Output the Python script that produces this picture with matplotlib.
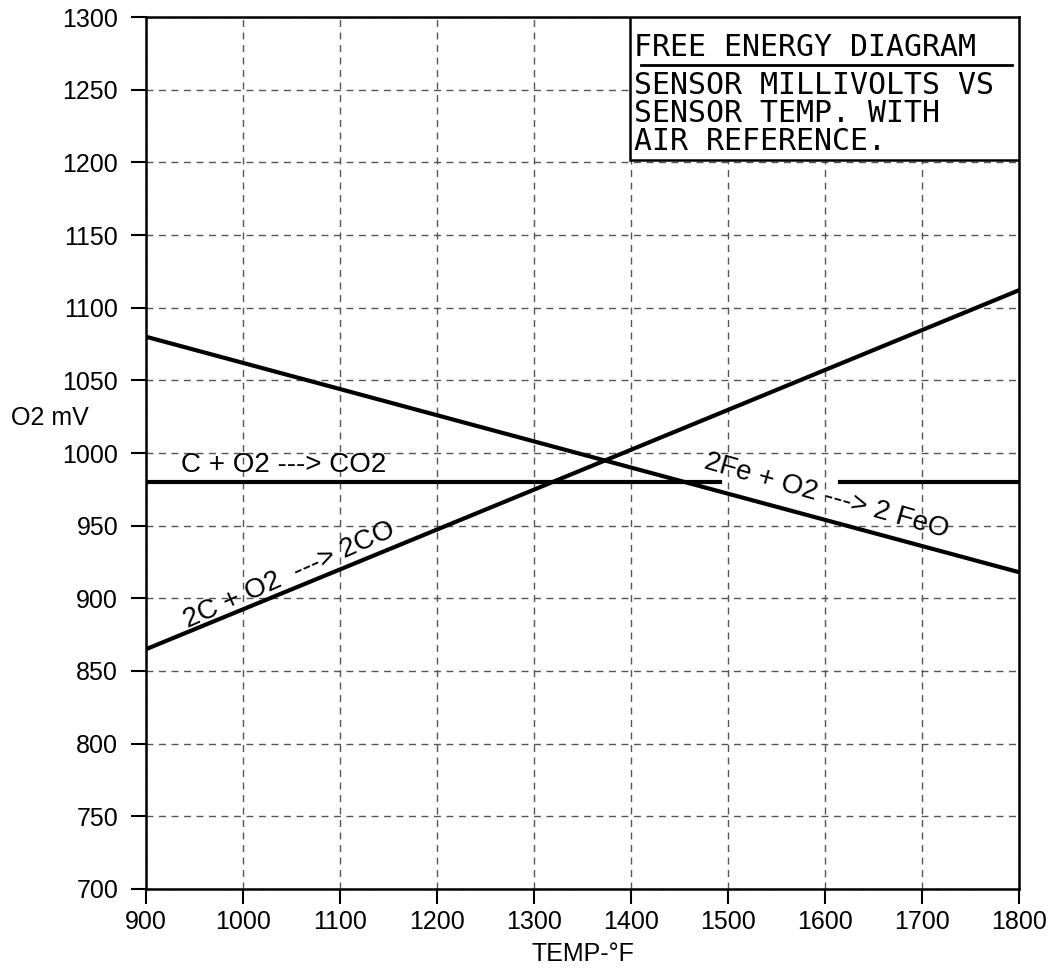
import matplotlib.pyplot as plt
from matplotlib.patches import Rectangle

temp = [900, 1800]
co_line = [865, 1112]      # 2C + O2 ---> 2CO
feo_line = [1080, 918]     # 2Fe + O2 ---> 2 FeO
co2_left = [900, 1492]     # C + O2 ---> CO2 (broken around the FeO label)
co2_right = [1615, 1800]
co2_level = 980

xticks = list(range(900, 1801, 100))
yticks = list(range(700, 1301, 50))
box_lines = ["SENSOR MILLIVOLTS VS", "SENSOR TEMP. WITH", "AIR REFERENCE."]

plt.rcParams['font.family'] = ['Liberation Sans', 'DejaVu Sans']

fig = plt.figure(figsize=(10.52, 9.72), dpi=100)
ax = fig.add_axes([0.1388, 0.0854, 0.8298, 0.8971])

ax.plot(temp, co_line, color="black", lw=3, zorder=3)
ax.plot(temp, feo_line, color="black", lw=3, zorder=3)
ax.plot(co2_left, [co2_level] * 2, color="black", lw=3, zorder=3)
ax.plot(co2_right, [co2_level] * 2, color="black", lw=3, zorder=3)

ax.set_xlim(900, 1800)
ax.set_ylim(700, 1300)
ax.set_xticks(xticks)
ax.set_yticks(yticks)
ax.tick_params(direction="out", length=11, width=1.5, labelsize=18)
ax.tick_params(axis="y", pad=9)
ax.tick_params(axis="x", pad=4)
ax.grid(True, color="#555555", lw=1, ls=(0, (5, 4)))
for s in ax.spines.values():
    s.set_linewidth(1.8)

ax.set_xlabel("TEMP-°F", fontsize=18, labelpad=6)
ax.text(-0.155, 0.54, "O2 mV", transform=ax.transAxes, fontsize=18, ha="left", va="center")

ax.text(1042, 992, "C + O2 ---> CO2", fontsize=20, ha="center", va="center")
ax.text(1048, 916, "2C + O2  ---> 2CO", fontsize=20, ha="center", va="center",
        rotation=24, rotation_mode="anchor")
ax.text(1602, 970, "2Fe + O2 ---> 2 FeO", fontsize=20, ha="center", va="center",
        rotation=-16, rotation_mode="anchor")

# title box
ax.add_patch(Rectangle((0.5544, 0.836), 0.4456, 0.164, transform=ax.transAxes,
                       facecolor="white", edgecolor="black", lw=1.8, zorder=4))
mono = ["DejaVu Sans Mono"]
ax.text(0.559, 0.9656, "FREE ENERGY DIAGRAM", transform=ax.transAxes, family=mono,
        fontsize=21.5, ha="left", va="center", zorder=5)
ax.plot([0.567, 0.9915], [0.945, 0.945], transform=ax.transAxes, color="black",
        lw=2, zorder=5, clip_on=False)
for i, t in enumerate(box_lines):
    ax.text(0.559, 0.9214 - i * 0.0323, t, transform=ax.transAxes, family=mono,
            fontsize=21.5, ha="left", va="center", zorder=5)

fig.savefig("out.png")
